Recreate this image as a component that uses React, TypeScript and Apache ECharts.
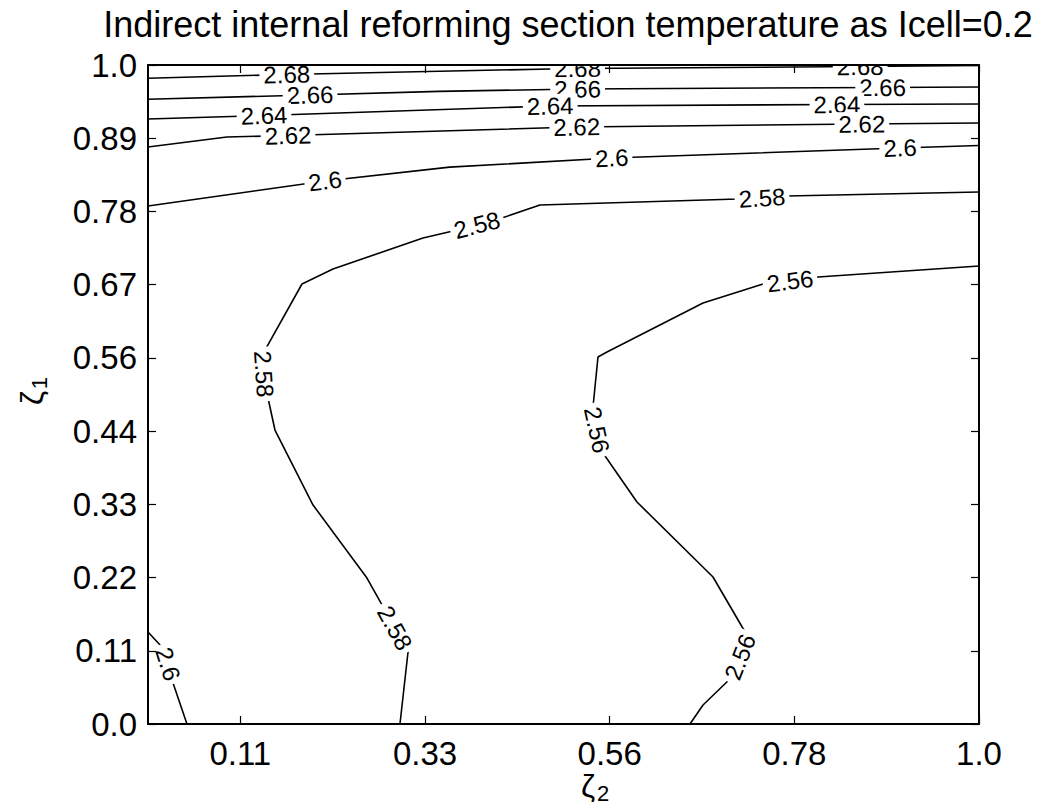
import React, { useEffect, useRef } from "react";
import * as echarts from "echarts";

// Axis ticks (ζ2 on x, ζ1 on y)
const xTickValues = [1 / 9, 3 / 9, 5 / 9, 7 / 9, 1];
const xTickLabels = ["0.11", "0.33", "0.56", "0.78", "1.0"];
const yTickValues = [0, 1 / 9, 2 / 9, 3 / 9, 4 / 9, 5 / 9, 6 / 9, 7 / 9, 8 / 9, 1];
const yTickLabels = ["0.0", "0.11", "0.22", "0.33", "0.44", "0.56", "0.67", "0.78", "0.89", "1.0"];

// Contour polylines, points are [ζ2, ζ1]
const level268 = [[0, 0.98], [0.167, 0.9856], [0.484, 0.994], [0.517, 0.9947], [0.857, 0.9977], [1, 0.9992]];
const level266 = [[0, 0.948], [0.195, 0.9545], [0.35, 0.96], [0.517, 0.9636], [0.884, 0.9659], [1, 0.9666]];
const level264 = [[0, 0.918], [0.1396, 0.9234], [0.484, 0.9378], [0.829, 0.94], [1, 0.9408]];
const level262 = [[0, 0.8756], [0.095, 0.8907], [0.1685, 0.893], [0.516, 0.906], [0.859, 0.9105], [1, 0.912]];
const level260Top = [[0, 0.786], [0.213, 0.824], [0.363, 0.845], [0.558, 0.8589], [0.905, 0.8741], [1, 0.8778]];
const level260Corner = [[0, 0.1396], [0.0168, 0.1168], [0.0241, 0.091], [0.0301, 0.0622], [0.0469, 0]];
const level258 = [
  [0.3032, 0], [0.3129, 0.1093], [0.2972, 0.1457], [0.2816, 0.1806], [0.2635, 0.2215],
  [0.1986, 0.3323], [0.1528, 0.4461], [0.1444, 0.4947], [0.1396, 0.5311], [0.1408, 0.5675],
  [0.1853, 0.6677], [0.2226, 0.6904], [0.3309, 0.7375], [0.367, 0.7481], [0.3959, 0.7572],
  [0.426, 0.7678], [0.4717, 0.7876], [0.71, 0.7967], [0.7389, 0.7982], [0.769, 0.8012], [1, 0.8073],
];
const level256 = [
  [0.6522, 0], [0.6679, 0.0288], [0.7028, 0.0713], [0.7124, 0.1017], [0.722, 0.132],
  [0.6799, 0.2231], [0.5884, 0.3369], [0.5475, 0.4112], [0.5403, 0.4461], [0.5355, 0.481],
  [0.5415, 0.5569], [0.5523, 0.5645], [0.6679, 0.6388], [0.7401, 0.6677], [0.7726, 0.6722],
  [0.8063, 0.6783], [1, 0.695],
];

// Each contour: its level, its points, and which points carry an inline label
const contours = [
  { level: 2.68, points: level268, labelAt: [1, 3, 4] },
  { level: 2.66, points: level266, labelAt: [1, 3, 4] },
  { level: 2.64, points: level264, labelAt: [1, 2, 3] },
  { level: 2.62, points: level262, labelAt: [2, 3, 4] },
  { level: 2.6, points: level260Top, labelAt: [1, 3, 4] },
  { level: 2.6, points: level260Corner, labelAt: [2] },
  { level: 2.58, points: level258, labelAt: [2, 8, 14, 18] },
  { level: 2.56, points: level256, labelAt: [3, 8, 14] },
];

const FONT = "Liberation Sans, Arial, Helvetica, sans-serif";

function tickText(values: number[], labels: string[], v: number) {
  let best = 0;
  for (let i = 1; i < values.length; i++) {
    if (Math.abs(values[i] - v) < Math.abs(values[best] - v)) best = i;
  }
  return labels[best];
}

function axisName(sub: string) {
  return [
    { type: "text", x: 0, y: 0, style: { text: "ζ", fontSize: 32, lineHeight: 22, fontFamily: FONT, fill: "#000", align: "center", verticalAlign: "middle" } },
    { type: "text", x: 15, y: 7, style: { text: sub, fontSize: 22, lineHeight: 16, fontFamily: FONT, fill: "#000", align: "center", verticalAlign: "middle" } },
  ];
}

export default function App() {
  const ref = useRef<HTMLDivElement>(null);

  useEffect(() => {
    if (!ref.current) return;
    const chart = echarts.init(ref.current, undefined, { renderer: "svg" });

    // inline label anchors: [x, y, prevX, prevY, nextX, nextY]
    const labelData: number[][] = [];
    const labelText: string[] = [];
    contours.forEach((c) => {
      c.labelAt.forEach((i) => {
        const p = c.points[i];
        const a = c.points[i - 1];
        const b = c.points[i + 1];
        labelData.push([p[0], p[1], a[0], a[1], b[0], b[1]]);
        labelText.push(String(c.level));
      });
    });

    const frameLine = { show: true, onZero: false, lineStyle: { color: "#000", width: 2 } };
    const tickStyle = { color: "#000", width: 1.2 };

    const lineSeries = contours.map((c) => ({
      type: "line",
      data: c.points,
      showSymbol: false,
      symbol: "none",
      lineStyle: { color: "#000", width: 1.6 },
      z: 2,
      silent: true,
    }));

    chart.setOption({
      animation: false,
      backgroundColor: "#fff",
      title: {
        text: "Indirect internal reforming section temperature as Icell=0.2",
        left: 568,
        top: 6,
        textAlign: "center",
        padding: 0,
        textStyle: { fontSize: 36, fontWeight: "normal", color: "#000", fontFamily: FONT },
      },
      grid: { left: 148, top: 65, right: 59, bottom: 83, outerBoundsMode: "none", containLabel: false },
      xAxis: [
        {
          type: "value",
          min: 0,
          max: 1,
          position: "bottom",
          axisLine: frameLine,
          axisTick: { show: true, inside: true, length: 8, customValues: xTickValues, lineStyle: tickStyle },
          axisLabel: {
            customValues: xTickValues,
            formatter: (v: number) => tickText(xTickValues, xTickLabels, v),
            fontSize: 33,
            lineHeight: 28,
            color: "#000",
            fontFamily: FONT,
            margin: 15,
          },
          splitLine: { show: false },
          z: 10,
        },
        {
          type: "value",
          min: 0,
          max: 1,
          position: "top",
          axisLine: frameLine,
          axisTick: { show: true, inside: true, length: 8, customValues: xTickValues, lineStyle: tickStyle },
          axisLabel: { show: false },
          splitLine: { show: false },
          z: 10,
        },
      ],
      yAxis: [
        {
          type: "value",
          min: 0,
          max: 1,
          position: "left",
          axisLine: frameLine,
          axisTick: { show: true, inside: true, length: 8, customValues: yTickValues, lineStyle: tickStyle },
          axisLabel: {
            customValues: yTickValues,
            formatter: (v: number) => tickText(yTickValues, yTickLabels, v),
            fontSize: 33,
            color: "#000",
            fontFamily: FONT,
            margin: 11,
          },
          splitLine: { show: false },
          z: 10,
        },
        {
          type: "value",
          min: 0,
          max: 1,
          position: "right",
          axisLine: frameLine,
          axisTick: { show: true, inside: true, length: 8, customValues: yTickValues, lineStyle: tickStyle },
          axisLabel: { show: false },
          splitLine: { show: false },
          z: 10,
        },
      ],
      series: [
        ...lineSeries,
        {
          type: "custom",
          coordinateSystem: "cartesian2d",
          clip: true,
          silent: true,
          z: 3,
          encode: { x: 0, y: 1 },
          data: labelData,
          renderItem: (params: any, api: any) => {
            const p = api.coord([api.value(0), api.value(1)]);
            const a = api.coord([api.value(2), api.value(3)]);
            const b = api.coord([api.value(4), api.value(5)]);
            let ang = Math.atan2(b[1] - a[1], b[0] - a[0]);
            if (ang > Math.PI / 2) ang -= Math.PI;
            if (ang < -Math.PI / 2) ang += Math.PI;
            return {
              type: "text",
              x: p[0],
              y: p[1],
              rotation: -ang,
              style: {
                text: labelText[params.dataIndex],
                fontSize: 24,
                fontFamily: FONT,
                fill: "#000",
                align: "center",
                verticalAlign: "middle",
                backgroundColor: "#fff",
                padding: [0, 4],
              },
            };
          },
        },
      ],
      graphic: [
        { type: "group", x: 588, y: 786, children: axisName("2") },
        { type: "group", x: 32, y: 398, rotation: Math.PI / 2, children: axisName("1") },
      ],
    });

    return () => chart.dispose();
  }, []);

  return <div ref={ref} style={{ position: "fixed", left: 0, top: 0, width: 1038, height: 807 }} />;
}
